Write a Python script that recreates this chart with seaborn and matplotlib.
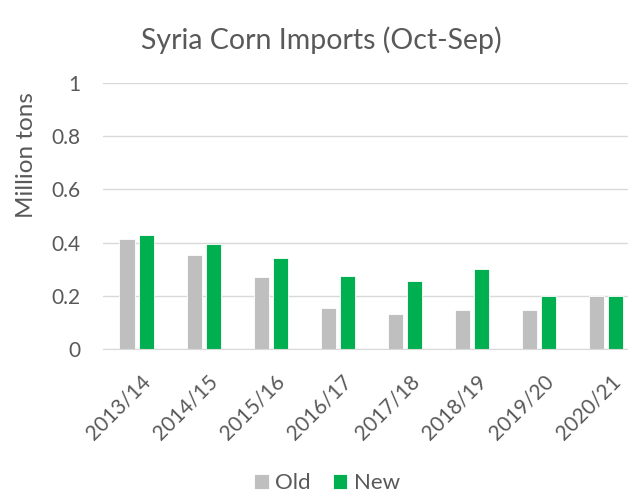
import matplotlib
matplotlib.use("Agg")
import matplotlib.pyplot as plt
import matplotlib.transforms as mtransforms
import pandas as pd
import seaborn as sns

seasons = ["2013/14", "2014/15", "2015/16", "2016/17", "2017/18", "2018/19", "2019/20", "2020/21"]
old_values = [0.415, 0.355, 0.27, 0.153, 0.131, 0.147, 0.148, 0.2]
new_values = [0.43, 0.396, 0.342, 0.275, 0.255, 0.30, 0.2, 0.2]
series_names = ["Old", "New"]
colors = {"Old": "#BFBFBF", "New": "#00B050"}
text_color = "#595959"

df = pd.DataFrame({
    "season": seasons * 2,
    "value": old_values + new_values,
    "series": [series_names[0]] * len(seasons) + [series_names[1]] * len(seasons),
})

sns.set_style("white")
plt.rcParams["font.family"] = ["Lato", "DejaVu Sans"]

fig = plt.figure(figsize=(6.28, 4.94), dpi=100)
# plot area runs a little past the right edge, as in the cropped original
ax = fig.add_axes([0.164, 0.2935, 0.855, 0.5385])

sns.barplot(
    data=df, x="season", y="value", hue="series", order=seasons,
    hue_order=series_names, palette=colors, saturation=1, width=0.57, gap=0.21,
    edgecolor="white", linewidth=0.6, ax=ax,
)

ax.set_ylim(0, 1)
ax.set_xlim(-0.5, len(seasons) - 0.5)
ax.set_yticks([0, 0.2, 0.4, 0.6, 0.8, 1])
ax.set_yticklabels(["0", "0.2", "0.4", "0.6", "0.8", "1"])
ax.yaxis.grid(True, color="#D9D9D9", linewidth=1)
ax.set_axisbelow(True)
for side in ["top", "right", "left"]:
    ax.spines[side].set_visible(False)
ax.spines["bottom"].set_color("#D9D9D9")
ax.tick_params(axis="both", length=0, labelsize=15, colors=text_color)
ax.tick_params(axis="y", pad=16)
ax.tick_params(axis="x", pad=16)
shift = mtransforms.ScaledTranslation(4 / 100, 0, fig.dpi_scale_trans)
for lbl in ax.get_xticklabels():
    lbl.set_rotation(45)
    lbl.set_ha("right")
    lbl.set_va("top")
    lbl.set_rotation_mode("anchor")
    lbl.set_transform(lbl.get_transform() + shift)
ax.set_xlabel("")
ax.set_ylabel("")

fig.text(0.042, 0.686, "Million tons", rotation=90, ha="center", va="center",
         fontsize=17.5, color=text_color)
fig.text(0.512, 0.918, "Syria Corn Imports (Oct-Sep)", ha="center", va="center",
         fontsize=20.5, color=text_color)

handles, labels = ax.get_legend_handles_labels()
ax.legend_.remove()
fig.legend(handles, labels, loc="center", bbox_to_anchor=(0.521, 0.022), ncol=2,
           frameon=False, fontsize=16, labelcolor=text_color, handlelength=0.65,
           handleheight=0.65, handletextpad=0.3, columnspacing=1.0)

fig.savefig("out.png", dpi=100)
